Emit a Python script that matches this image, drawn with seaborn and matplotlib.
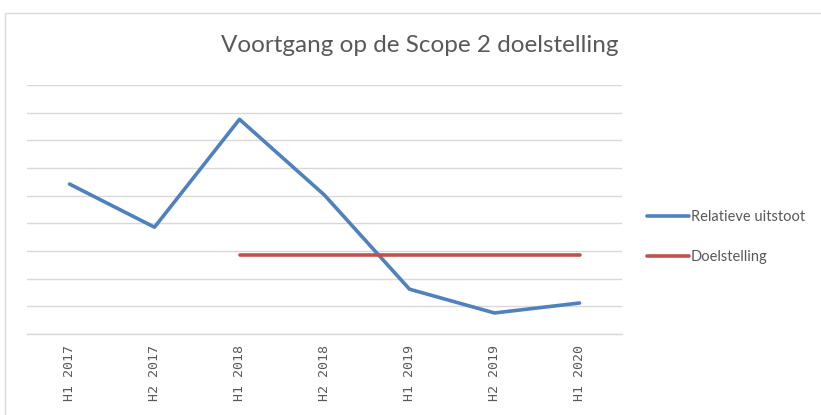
import matplotlib
matplotlib.use("Agg")
import matplotlib.pyplot as plt
from matplotlib.patches import Rectangle
from matplotlib.lines import Line2D
import seaborn as sns
import pandas as pd
import numpy as np

# data (no y scale is shown, units are relative)
periods = ["H1 2017", "H2 2017", "H1 2018", "H2 2018", "H1 2019", "H2 2019", "H1 2020"]
relatieve_uitstoot = [5.42, 3.86, 7.76, 5.02, 1.62, 0.76, 1.12]
doelstelling = [np.nan, np.nan, 2.85, 2.85, 2.85, 2.85, 2.85]

blue = "#4F81BD"
red = "#C0504D"
grey_text = "#595959"

df = pd.DataFrame({
    "pos": list(range(len(periods))) * 2,
    "waarde": relatieve_uitstoot + doelstelling,
    "reeks": ["Relatieve uitstoot"] * len(periods) + ["Doelstelling"] * len(periods),
})

sns.set_theme(style="white")
plt.rcParams["font.family"] = ["Lato", "DejaVu Sans"]

fig = plt.figure(figsize=(8.21, 4.15), dpi=100)
ax = fig.add_axes([27 / 821, 1 - 334 / 415, 595 / 821, 249 / 415])

sns.lineplot(data=df, x="pos", y="waarde", hue="reeks",
             palette={"Relatieve uitstoot": blue, "Doelstelling": red},
             linewidth=2.6, sort=False, ax=ax, legend=False)

ax.set_xlim(-0.5, len(periods) - 0.5)
ax.set_ylim(0, 9)
ax.set_yticks(range(0, 10))
ax.set_yticklabels([])
ax.tick_params(axis="y", length=0)
ax.grid(axis="y", color="#D9D9D9", linewidth=1)
ax.set_axisbelow(True)
for s in ["top", "right", "left"]:
    ax.spines[s].set_visible(False)
ax.spines["bottom"].set_color("#D9D9D9")
ax.spines["bottom"].set_linewidth(1)

ax.set_xticks(range(len(periods)))
ax.set_xticklabels(periods, rotation=90, fontsize=9.5, color=grey_text,
                   family=["DejaVu Sans Mono"])
ax.tick_params(axis="x", length=0, pad=8)
ax.set_xlabel("")
ax.set_ylabel("")

fig.text(420 / 821, 1 - 45 / 415, "Voortgang op de Scope 2 doelstelling",
         ha="center", va="center", fontsize=17.5, color=grey_text)

handles = [Line2D([], [], color=blue, linewidth=2.6),
           Line2D([], [], color=red, linewidth=2.6)]
fig.legend(handles, ["Relatieve uitstoot", "Doelstelling"],
           loc="upper left", bbox_to_anchor=(634 / 821, 1 - 197 / 415),
           frameon=False, fontsize=10.5, handlelength=2.9, handletextpad=0.1,
           labelspacing=1.75, labelcolor=grey_text)

# outer chart border
fig.add_artist(Rectangle((5 / 821, -0.1), 1.0, 1 - 13 / 415 + 0.1,
                         transform=fig.transFigure, fill=False,
                         edgecolor="#D9D9D9", linewidth=1))

fig.savefig("out.png", dpi=100)
